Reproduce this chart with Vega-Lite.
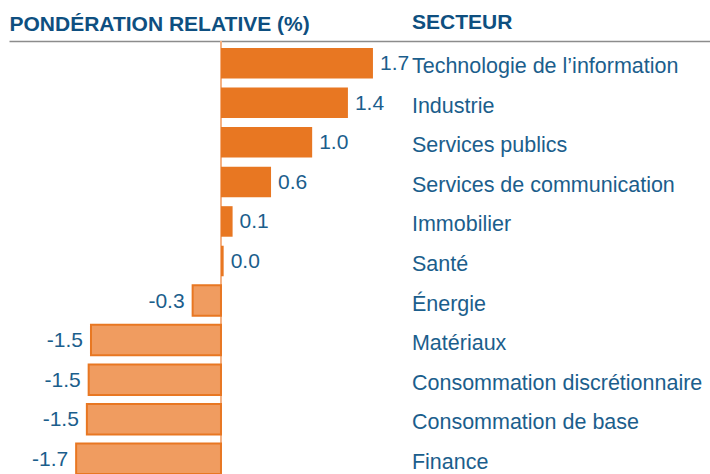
{
  "$schema": "https://vega.github.io/schema/vega-lite/v6.json",
  "autosize": "none",
  "padding": {"left": 9, "top": 41, "right": 0, "bottom": 0},
  "width": 701,
  "height": 440,
  "background": "white",
  "view": {"stroke": null},
  "title": {
    "text": "SECTEUR",
    "anchor": "start",
    "frame": "group",
    "dx": 403,
    "offset": -37,
    "baseline": "alphabetic",
    "font": "Liberation Sans",
    "fontSize": 21,
    "fontWeight": "bold",
    "color": "#0E4F80"
  },
  "data": {
    "values": [
      {"secteur": "Technologie de l’information", "valeur": 1.7, "etiquette": "1.7", "signe": "pos"},
      {"secteur": "Industrie", "valeur": 1.42, "etiquette": "1.4", "signe": "pos"},
      {"secteur": "Services publics", "valeur": 1.02, "etiquette": "1.0", "signe": "pos"},
      {"secteur": "Services de communication", "valeur": 0.56, "etiquette": "0.6", "signe": "pos"},
      {"secteur": "Immobilier", "valeur": 0.13, "etiquette": "0.1", "signe": "pos"},
      {"secteur": "Santé", "valeur": 0.03, "etiquette": "0.0", "signe": "pos"},
      {"secteur": "Énergie", "valeur": -0.317, "etiquette": "-0.3", "signe": "neg"},
      {"secteur": "Matériaux", "valeur": -1.454, "etiquette": "-1.5", "signe": "neg"},
      {"secteur": "Consommation discrétionnaire", "valeur": -1.48, "etiquette": "-1.5", "signe": "neg"},
      {"secteur": "Consommation de base", "valeur": -1.50, "etiquette": "-1.5", "signe": "neg"},
      {"secteur": "Finance", "valeur": -1.62, "etiquette": "-1.7", "signe": "neg"}
    ]
  },
  "encoding": {
    "y": {
      "field": "secteur",
      "type": "nominal",
      "sort": null,
      "scale": {"paddingInner": 0.228, "paddingOuter": 0.177},
      "axis": null
    }
  },
  "layer": [
    {
      "mark": {"type": "rule", "color": "#F4B183", "strokeWidth": 1.5},
      "encoding": {
        "x": {
          "datum": 0,
          "type": "quantitative",
          "scale": {"domain": [-2.371, 5.47], "nice": false, "zero": false},
          "axis": {
            "orient": "top",
            "domain": true,
            "domainColor": "#8C8C8C",
            "domainWidth": 1.5,
            "ticks": false,
            "labels": false,
            "grid": false,
            "title": "PONDÉRATION RELATIVE (%)",
            "titleAnchor": "start",
            "titleAlign": "left",
            "titleX": 0,
            "titleY": -11,
            "titleBaseline": "alphabetic",
            "titleFont": "Liberation Sans",
            "titleFontSize": 21,
            "titleFontWeight": "bold",
            "titleColor": "#0E4F80"
          }
        },
        "y": null
      }
    },
    {
      "mark": {"type": "bar", "clip": false},
      "encoding": {
        "x": {"field": "valeur", "type": "quantitative"},
        "color": {
          "field": "signe",
          "type": "nominal",
          "scale": {"domain": ["pos", "neg"], "range": ["#E87722", "#F09C60"]},
          "legend": null
        },
        "stroke": {
          "field": "signe",
          "type": "nominal",
          "scale": {"domain": ["pos", "neg"], "range": ["#E87722", "#E87722"]},
          "legend": null
        },
        "strokeWidth": {
          "field": "signe",
          "type": "nominal",
          "scale": {"domain": ["pos", "neg"], "range": [0, 2]},
          "legend": null
        }
      }
    },
    {
      "transform": [{"filter": "datum.valeur >= 0"}],
      "mark": {"type": "text", "align": "left", "baseline": "middle", "dx": 7, "dy": 1, "font": "Liberation Sans", "fontSize": 21, "color": "#1B5E8C"},
      "encoding": {
        "x": {"field": "valeur", "type": "quantitative"},
        "text": {"field": "etiquette"}
      }
    },
    {
      "transform": [{"filter": "datum.valeur < 0"}],
      "mark": {"type": "text", "align": "right", "baseline": "middle", "dx": -8, "dy": 1, "font": "Liberation Sans", "fontSize": 21, "color": "#1B5E8C"},
      "encoding": {
        "x": {"field": "valeur", "type": "quantitative"},
        "text": {"field": "etiquette"}
      }
    },
    {
      "mark": {"type": "text", "align": "left", "baseline": "middle", "dy": 4, "font": "Liberation Sans", "fontSize": 21.5, "color": "#1B5E8C"},
      "encoding": {
        "x": {"datum": 2.136, "type": "quantitative"},
        "text": {"field": "secteur"}
      }
    }
  ]
}
